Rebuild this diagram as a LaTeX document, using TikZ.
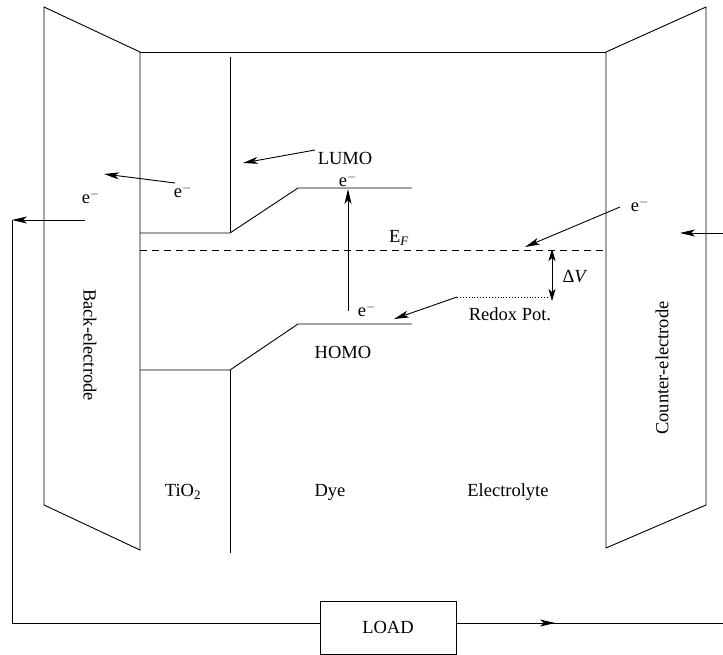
\documentclass[tikz,border=0pt]{standalone}
\usepackage{fontspec}
\setmainfont{Liberation Serif}
\usetikzlibrary{arrows.meta}

\tikzset{
	wire/.style={line width=0.9pt},
	elec/.style={-{Stealth[length=15pt,width=7pt,inset=4pt]}, line width=0.9pt},
	lbl/.style={font=\fontsize{18.5}{22}\selectfont, inner sep=0pt},
}

\begin{document}
\begin{tikzpicture}[x=1pt,y=-1pt]
	\useasboundingbox (0,0) rectangle (723,655);
	
	%electrodes
	\draw[wire] (44,7) -- (140,52) -- (140,550) -- (44,505) -- cycle;
	\draw[wire] (606,52) -- (706,7) -- (706,505) -- (606,548) -- cycle;
	\draw[wire] (140,52) -- (606,52);
	
	%bands
	\coordinate (cbl) at (140,233);
	\coordinate (cbk) at (230,233);
	\coordinate (lumol) at (298,188);
	\coordinate (lumor) at (412,188);
	\coordinate (vbl) at (140,370);
	\coordinate (vbk) at (230,370);
	\coordinate (homol) at (298,324);
	\coordinate (homor) at (412,324);
	\draw[wire] (230,57) -- (cbk);
	\draw[wire] (cbl) -- (cbk) -- (lumol) -- (lumor);
	\draw[wire] (vbl) -- (vbk) -- (homol) -- (homor);
	\draw[wire] (vbk) -- (230,553);
	
	%Fermi level and redox potential
	\coordinate (efl) at (140,250);
	\coordinate (efr) at (606,250);
	\draw[wire, dash pattern=on 7pt off 5pt] (efl) -- (efr);
	\coordinate (redl) at (457,297);
	\coordinate (redr) at (548,297);
	\draw[wire, dotted] (redl) -- (redr);
	\draw[wire, {Stealth[length=12pt,width=7pt,inset=3pt]}-{Stealth[length=12pt,width=7pt,inset=3pt]}] (552,249) -- (552,301);
	
	%labels
	\node[lbl] (lumo) at (345,158) {LUMO};
	\node[lbl] (homo) at (343,352) {HOMO};
	\node[lbl] (elumo) at (348,180) {e$^-$};
	\node[lbl] (ehomo) at (367,310) {e$^-$};
	\node[lbl] (ef) at (399,238) {E\textsubscript{\textit{F}}};
	\node[lbl] (dv) at (575,277) {Δ\textit{V}};
	\node[lbl] (redox) at (510,314) {Redox Pot.};
	\node[lbl] (etio) at (183,191) {e$^-$};
	\node[lbl] (eback) at (91,197) {e$^-$};
	\node[lbl] (ecount) at (640,205) {e$^-$};
	\node[lbl] (tio) at (183,492) {TiO\textsubscript{2}};
	\node[lbl] (dye) at (330,492) {Dye};
	\node[lbl] (electrolyte) at (508,492) {Electrolyte};
	\node[lbl, rotate=-90] (back) at (90,345) {Back-electrode};
	\node[lbl, rotate=90] (counter) at (662,368) {Counter-electrode};
	
	%electron arrows
	\draw[elec] (348,311) -- (348,189);
	\draw[elec] (315,150) -- (243,163);
	\draw[elec] (175,183) -- (104,174);
	\draw[elec] (620,207) -- (525,247);
	\draw[elec] (redl) -- (394,319);
	
	%outer circuit
	\node[lbl, draw, line width=0.9pt, minimum width=136pt, minimum height=53pt] (load) at (388,627.5) {LOAD};
	\coordinate (lout) at (85,220);
	\coordinate (lcorner) at (12,220);
	\coordinate (lbot) at (12,623);
	\coordinate (rend) at (723,623);
	\coordinate (rin) at (723,233);
	\draw[elec] (lout) -- (lcorner);
	\draw[wire] (lcorner) -- (lbot) -- (lbot -| load.west);
	\draw[wire] (load.east |- rend) -- (rend);
	\draw[elec] (479,623) -- (555,623);
	\draw[elec] (rin) -- (680,233);
\end{tikzpicture}
\end{document}
